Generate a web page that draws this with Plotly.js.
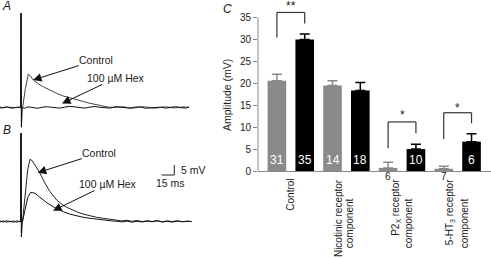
<!DOCTYPE html>
<html><head><meta charset="utf-8">
<script src="https://cdn.plot.ly/plotly-3.0.1.min.js"></script>
<style>html,body{margin:0;padding:0;background:#fff}</style>
</head><body><div id="chart" style="width:491px;height:259px"></div>
<script>
// ---- Panel C data ----
const categories = ['Control', 'Nicotinic receptor component', 'P2X receptor component', '5-HT3 receptor component'];
const grayValues = [20.6, 19.5, 0.7, 0.5];
const grayErrors = [1.5, 1.1, 1.3, 0.6];
const blackValues = [30.0, 18.4, 5.0, 6.7];
const blackErrors = [1.3, 1.8, 1.1, 1.8];
const grayN = [31, 14, 6, 7];
const blackN = [35, 18, 10, 6];
const yTicks = [0, 5, 10, 15, 20, 25, 30, 35];
const labelLine1 = ['Control', 'Nicotinic receptor', 'P2<sub>X</sub> receptor', '5-HT<sub>3</sub> receptor'];
const labelLine2 = ['', 'component', 'component', 'component'];
const sigPairs = [0, 2, 3];
const sigTop = [36.2, 11.2, 13.3];
const sigLeft = [30.5, 5.2, 7.3];
const sigRight = [33.7, 8.6, 10.9];
const sigStars = ['**', '*', '*'];
const sigStarY = [37.7, 12.8, 14.4];

// ---- Panels A and B traces (time ms, voltage mV) ----
const tA_ctrl = [-25,-21,-17,-13,-9,-5,-2,-0.4,0,0.5,1.2,2.0,5,8.7,11,14.6,20,26.5,32,38.4,44,50.3,58,66.3,74,82.1,90,98,104,109.8,116,122,128,134,140,146,152,158,164,170,176,182,188,194,200];
const vA_ctrl = [0.3,-0.2,0.2,0.1,-0.3,-0.1,0.2,0,47.2,-9.8,0,0,9,16.75,15.8,13.75,12.0,10.4,9.1,7.9,6.8,5.75,4.9,4.1,3.0,2.1,1.3,0.75,0.2,0,0.3,0.4,-0.2,-0.3,0.2,0.4,0.1,-0.3,-0.1,0.3,0.2,-0.2,0.1,0.3,0];
const tA_hex = [-25,-21,-17,-13,-9,-5,-2,-0.4,0,0.5,1.2,4,8,12,16,20,25,30,35,40,46,52,58,64,70,76,82,88,94,100,106,112,118,124,130,136,142,148,154,160,166,172,178,184,190,196,200];
const vA_hex = [-0.3,0.1,0.3,-0.2,-0.3,0.2,-0.1,0,47.2,-9.8,0,-0.4,0.3,0.1,-0.2,-0.4,0.1,0.4,0.2,-0.2,-0.3,0.2,0.6,0.3,-0.1,-0.3,0.2,0.5,0.1,-0.2,-0.3,0.4,0.1,-0.1,-0.3,0.2,0.3,-0.4,-0.2,0.3,0.2,-0.3,0,0.4,-0.1,-0.3,0.3];
const tB_ctrl = [-25,-21,-17,-13,-9,-5,-2,-0.4,0,0.5,1.2,1.8,5,8,10.7,13,16.7,22.6,28.6,34.5,42.5,48,54.4,60,66.3,74,82.1,90,98,106,113.9,120,126,132,138,144,150,156,162,168,174,180,186,192,198,203];
const vB_ctrl = [0.3,-0.3,0.4,-0.2,0.3,-0.4,0.2,0,44.2,-7.7,0,0,14,26,31.1,30.5,28.25,24.1,19.1,14.9,10.75,8.8,7.1,5.9,4.9,3.7,2.75,2.1,1.6,1.1,0.75,0.3,0.6,0.1,0.5,-0.1,0.4,0,0.5,-0.2,0.3,0,0.4,-0.1,0.2,0];
const tB_hex = [-25,-21,-17,-13,-9,-5,-2,-0.4,0,0.5,1.2,1.8,5,8,11.5,14,16.7,21,26.5,32,38.4,44,50.3,58,66.3,74,82.1,90,98,106,114,120,126,132,138,144,150,156,162,168,174,180,186,192,198,203];
const vB_hex = [-0.2,0.3,-0.3,0.2,-0.4,0.3,-0.1,0,44.2,-7.7,0,0,6.5,12,14.6,14.5,14.1,12.6,10.75,9.0,7.4,6.1,4.9,3.7,2.75,2.1,1.6,1.1,0.75,0.4,0.1,-0.2,0.2,-0.3,0.1,-0.2,0.2,-0.1,0.3,-0.2,0.1,-0.3,0.2,-0.1,0.1,0];
const scaleBarMs = 15, scaleBarMv = 5;

const GRAY = '#8a8a8a', BLK = '#000', TXT = '#1a1a1a';
const FONT = 'Liberation Sans, Arial, sans-serif';
const OFF = 0.25; // bar offset within group (bargap 0 -> slot 0.5)

const data = [
  {type:'bar', x:categories, y:grayValues, xaxis:'x', yaxis:'y', marker:{color:GRAY},
   error_y:{type:'data', array:grayErrors, arrayminus:grayErrors.map(()=>0), symmetric:false, color:GRAY, thickness:1.5, width:5},
   hoverinfo:'skip'},
  {type:'bar', x:categories, y:blackValues, xaxis:'x', yaxis:'y', marker:{color:BLK},
   error_y:{type:'data', array:blackErrors, arrayminus:blackErrors.map(()=>0), symmetric:false, color:BLK, thickness:1.5, width:5},
   hoverinfo:'skip'},
  {type:'scatter', mode:'lines', x:tA_ctrl, y:vA_ctrl, xaxis:'x2', yaxis:'y2', line:{color:'#444', width:1}},
  {type:'scatter', mode:'lines', x:tA_hex, y:vA_hex, xaxis:'x2', yaxis:'y2', line:{color:'#111', width:1}},
  {type:'scatter', mode:'lines', x:tB_ctrl, y:vB_ctrl, xaxis:'x3', yaxis:'y3', line:{color:'#222', width:1}},
  {type:'scatter', mode:'lines', x:tB_hex, y:vB_hex, xaxis:'x3', yaxis:'y3', line:{color:'#111', width:1}}
];

const shapes = [];
shapes.push({type:'line', xref:'x domain', yref:'y', x0:0, x1:0, y0:0, y1:yTicks[yTicks.length-1], line:{color:'#888', width:1}});
const annotations = [];
sigPairs.forEach((p, i) => {
  const xl = p - OFF, xr = p + OFF;
  const ln = {color:'#333', width:1.2};
  shapes.push({type:'line', xref:'x', yref:'y', x0:xl, x1:xl, y0:sigLeft[i], y1:sigTop[i], line:ln});
  shapes.push({type:'line', xref:'x', yref:'y', x0:xl, x1:xr, y0:sigTop[i], y1:sigTop[i], line:ln});
  shapes.push({type:'line', xref:'x', yref:'y', x0:xr, x1:xr, y0:sigTop[i], y1:sigRight[i], line:ln});
  annotations.push({xref:'x', yref:'y', x:p, y:sigStarY[i], text:sigStars[i], showarrow:false, font:{size:12, color:TXT}, xanchor:'center', yanchor:'middle'});
});
const sbT = 182.4, sbV = 23.25;
shapes.push({type:'line', xref:'x3', yref:'y3', x0:sbT - scaleBarMs, x1:sbT, y0:sbV, y1:sbV, line:{color:'#222', width:1}});
shapes.push({type:'line', xref:'x3', yref:'y3', x0:sbT, x1:sbT, y0:sbV, y1:sbV + scaleBarMv, line:{color:'#222', width:1}});

categories.forEach((c, i) => {
  if (grayValues[i] > 3) {
    annotations.push({xref:'x', yref:'y', x:i - OFF, y:2.5, text:String(grayN[i]), showarrow:false, font:{size:12, color:'#fff'}, xanchor:'center', yanchor:'middle'});
  } else {
    annotations.push({xref:'x', yref:'y', x:i - OFF, y:0, yshift:-5.5, text:String(grayN[i]), showarrow:false, font:{size:10, color:TXT}, xanchor:'center', yanchor:'middle'});
  }
  annotations.push({xref:'x', yref:'y', x:i + OFF, y:2.5, text:String(blackN[i]), showarrow:false, font:{size:12, color:'#fff'}, xanchor:'center', yanchor:'middle'});
});
const l1Off = [-0.02, -0.15, -0.12, -0.135];
const l2Off = [0, 0.05, 0.11, 0.12];
categories.forEach((c, i) => {
  annotations.push({xref:'x', yref:'paper', x:i + l1Off[i], y:(259-177)/259, text:labelLine1[i], textangle:-90, showarrow:false, font:{size:10, color:TXT}, xanchor:'center', yanchor:'top'});
  if (labelLine2[i]) annotations.push({xref:'x', yref:'paper', x:i + l2Off[i], y:(259-196)/259, text:labelLine2[i], textangle:-90, showarrow:false, font:{size:10, color:TXT}, xanchor:'center', yanchor:'top'});
});
annotations.push({xref:'paper', yref:'paper', x:227/491, y:(259-95)/259, text:'Amplitude (mV)', textangle:-90, showarrow:false, font:{size:10.5, color:TXT}, xanchor:'center', yanchor:'middle'});
annotations.push({xref:'paper', yref:'paper', x:221/491, y:1, text:'<i>C</i>', showarrow:false, font:{size:12, color:TXT}, xanchor:'left', yanchor:'top'});
annotations.push({xref:'paper', yref:'paper', x:0, y:1.01, text:'<i>A</i>', showarrow:false, font:{size:12, color:TXT}, xanchor:'left', yanchor:'top'});
annotations.push({xref:'paper', yref:'paper', x:0.5/491, y:(259-121)/259, text:'<i>B</i>', showarrow:false, font:{size:12, color:TXT}, xanchor:'left', yanchor:'top'});

// labelled arrows: head at (x,y), text box centred at (ax,ay)
const arrowLabel = (xr, yr, x, y, ax, ay, t) => ({xref:xr, yref:yr, axref:xr, ayref:yr, x:x, y:y, ax:ax, ay:ay, text:t, showarrow:true, arrowhead:2, arrowsize:1.7, arrowwidth:1, arrowcolor:'#111', standoff:0, borderpad:0, font:{size:10.5, color:TXT}, xanchor:'center', yanchor:'middle'});
annotations.push(arrowLabel('x2','y2', 14.3, 13.75, 89.7, 23.75, 'Control'));
annotations.push(arrowLabel('x2','y2', 48.8, 2.0, 112.9, 14.75, '100 µM Hex'));
annotations.push(arrowLabel('x3','y3', 19.9, 24.4, 93.2, 34.25, 'Control'));
annotations.push(arrowLabel('x3','y3', 38.1, 5.4, 103.4, 18.75, '100 µM Hex'));
annotations.push({xref:'x3', yref:'y3', x:188.5, y:25.75, text:scaleBarMv + ' mV', showarrow:false, font:{size:10.5, color:TXT}, xanchor:'left', yanchor:'middle'});
annotations.push({xref:'x3', yref:'y3', x:177.3, y:19.1, text:scaleBarMs + ' ms', showarrow:false, font:{size:10.5, color:TXT}, xanchor:'center', yanchor:'middle'});

const layout = {
  width:491, height:259, margin:{l:0, r:0, t:0, b:0},
  paper_bgcolor:'#fff', plot_bgcolor:'rgba(0,0,0,0)', showlegend:false,
  font:{family:FONT, size:10, color:TXT},
  barmode:'group', bargap:0, bargroupgap:0.33,
  xaxis:{domain:[258/491, 1], type:'category', range:[-0.59, 3.6], showticklabels:false, ticks:'', showline:true, linecolor:'#888', linewidth:1, showgrid:false, zeroline:false, anchor:'y'},
  yaxis:{domain:[(259-171)/259, 1], range:[0, 39.04], tickvals:yTicks, ticks:'outside', ticklen:4, tickcolor:'#888', showline:false, showgrid:false, zeroline:false, tickfont:{size:10, color:TXT}, anchor:'x'},
  xaxis2:{domain:[0, 200/491], range:[-25, 213], visible:false, anchor:'y2'},
  yaxis2:{domain:[0.498, 1], range:[-11.25, 53.75], visible:false, anchor:'x2'},
  xaxis3:{domain:[0, 200/491], range:[-25, 213], visible:false, anchor:'y3'},
  yaxis3:{domain:[0, 0.498], range:[-18.75, 45.75], visible:false, anchor:'x3'},
  shapes:shapes, annotations:annotations
};
Plotly.newPlot('chart', data, layout, {staticPlot:true, displayModeBar:false});
</script></body></html>
